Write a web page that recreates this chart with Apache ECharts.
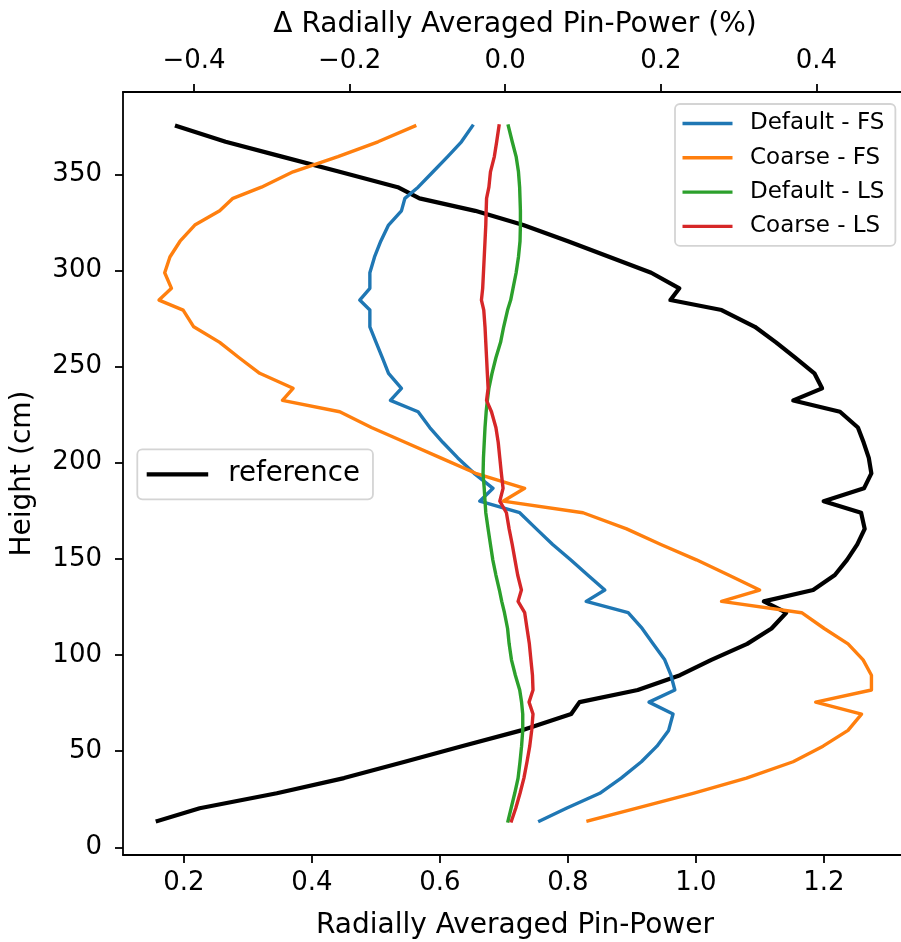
<!DOCTYPE html>
<html>
<head>
<meta charset="utf-8">
<script src="https://cdn.jsdelivr.net/npm/echarts@6/dist/echarts.min.js"></script>
<style>
  html, body { margin: 0; padding: 0; background: #ffffff; }
  #chart { width: 901px; height: 942px; }
</style>
</head>
<body>
<div id="chart"></div>
<script>
// Axial node heights (cm)
const heights = [13.7, 20.3, 28.1, 36.0, 44.5, 52.6, 60.8, 69.3, 75.5, 81.8,
  89.5, 97.5, 105.8, 113.8, 122.0, 127.9, 133.8, 141.6, 149.5, 157.5,
  165.6, 174.0, 180.0, 186.7, 194.5, 202.5, 210.5, 218.3, 226.5, 232.4,
  238.7, 246.5, 254.6, 262.6, 270.7, 279.4, 284.6, 290.7, 298.8, 307.0,
  315.2, 323.6, 331.0, 337.5, 343.3, 351.3, 359.2, 366.9, 375.1];

// Reference radially averaged pin-power (bottom axis)
const reference = [0.159, 0.2245, 0.345, 0.45, 0.545, 0.634, 0.727, 0.805, 0.818, 0.909,
  0.975, 1.024, 1.08, 1.118, 1.141, 1.106, 1.183, 1.217, 1.236, 1.252,
  1.2636, 1.258, 1.1995, 1.2625, 1.274, 1.270, 1.262, 1.253, 1.225, 1.152,
  1.197, 1.185, 1.155, 1.125, 1.092, 1.04, 0.960, 0.974, 0.930, 0.865,
  0.80, 0.73, 0.655, 0.568, 0.534, 0.443, 0.353, 0.265, 0.189];

// Differences from reference, in percent (top axis)
const defaultFS = [0.0443, 0.0786, 0.1215, 0.149, 0.175, 0.195, 0.210, 0.2157, 0.1848, 0.218,
  0.213, 0.205, 0.19, 0.176, 0.158, 0.104, 0.128, 0.106, 0.084, 0.061,
  0.040, 0.0186, -0.0328, -0.0157, -0.040, -0.061, -0.080, -0.097, -0.112, -0.1476,
  -0.1334, -0.150, -0.158, -0.166, -0.174, -0.174, -0.187, -0.174, -0.174, -0.168,
  -0.160, -0.150, -0.1334, -0.129, -0.112, -0.0928, -0.074, -0.0563, -0.0422];

const coarseFS = [0.1064, 0.168, 0.2414, 0.31, 0.37, 0.4085, 0.4406, 0.458, 0.399, 0.4707,
  0.4707, 0.46, 0.4406, 0.41, 0.381, 0.278, 0.327, 0.287, 0.2457, 0.20,
  0.156, 0.100, -0.0028, 0.025, -0.038, -0.083, -0.128, -0.172, -0.2127, -0.2864,
  -0.2727, -0.3156, -0.342, -0.367, -0.4004, -0.414, -0.445, -0.429, -0.4377, -0.431,
  -0.418, -0.399, -0.367, -0.35, -0.3134, -0.2727, -0.215, -0.1635, -0.1163];

const defaultLS = [0.0036, 0.0075, 0.0122, 0.0165, 0.019, 0.021, 0.0225, 0.0225, 0.021, 0.0186,
  0.013, 0.008, 0.005, 0.003, -0.001, -0.0045, -0.0075, -0.012, -0.016, -0.019,
  -0.022, -0.025, -0.026, -0.027, -0.0285, -0.028, -0.027, -0.026, -0.0245, -0.023,
  -0.021, -0.017, -0.012, -0.006, -0.002, 0.003, 0.007, 0.010, 0.014, 0.017,
  0.019, 0.0195, 0.0195, 0.019, 0.0185, 0.017, 0.014, 0.009, 0.004];

const coarseLS = [0.008, 0.0135, 0.019, 0.024, 0.028, 0.0315, 0.034, 0.0357, 0.0306, 0.0357,
  0.035, 0.033, 0.031, 0.028, 0.025, 0.0165, 0.0208, 0.016, 0.0125, 0.009,
  0.005, 0.0015, -0.007, -0.0028, -0.005, -0.007, -0.009, -0.012, -0.0177, -0.024,
  -0.022, -0.023, -0.024, -0.025, -0.026, -0.0276, -0.0306, -0.029, -0.028, -0.027,
  -0.026, -0.025, -0.0245, -0.024, -0.021, -0.019, -0.014, -0.011, -0.008];

// Tick positions
const powerTicks = [0.2, 0.4, 0.6, 0.8, 1.0, 1.2];
const deltaTicks = [-0.4, -0.2, 0.0, 0.2, 0.4];
const heightTicks = [0, 50, 100, 150, 200, 250, 300, 350];

const FONT = 'DejaVu Sans';
const pairs = (vals) => vals.map((v, i) => [v, heights[i]]);
const fmt1 = (v) => {
  const s = Number(v).toFixed(1);
  return s.replace('-', '\u2212');
};

const axisLineStyle = { color: '#000', width: 1.8 };
const tickStyle = { length: 8, lineStyle: { color: '#000', width: 1.8 } };

const chart = echarts.init(document.getElementById('chart'), null, { renderer: 'canvas' });

const lineSeries = (name, vals, color, axisIdx, width, z) => ({
  name, type: 'line', xAxisIndex: axisIdx, yAxisIndex: 0,
  data: pairs(vals), showSymbol: false, symbol: 'none', smooth: false,
  animation: false, z,
  lineStyle: { color, width, join: 'round', cap: 'square' },
  itemStyle: { color }
});

chart.setOption({
  animation: false,
  backgroundColor: '#ffffff',
  textStyle: { fontFamily: FONT },
  // plot frame extends slightly past the right edge of the canvas
  grid: { left: 123, top: 92, width: 784, height: 763, containLabel: false, outerBoundsMode: 'none' },
  xAxis: [
    {
      type: 'value', position: 'bottom', min: 0.1047, max: 1.3297,
      name: 'Radially Averaged Pin-Power', nameLocation: 'middle', nameGap: 57,
      nameTextStyle: { fontFamily: FONT, fontSize: 28, color: '#000' },
      axisLine: { show: true, onZero: false, lineStyle: axisLineStyle },
      axisTick: { show: true, inside: false, customValues: powerTicks, ...tickStyle },
      axisLabel: { customValues: powerTicks, formatter: fmt1, margin: 15,
        fontFamily: FONT, fontSize: 26, color: '#000' },
      splitLine: { show: false }
    },
    {
      type: 'value', position: 'top', min: -0.4913, max: 0.5164,
      name: '\u0394 Radially Averaged Pin-Power (%)', nameLocation: 'middle', nameGap: 53,
      nameTextStyle: { fontFamily: FONT, fontSize: 28, color: '#000' },
      axisLine: { show: true, onZero: false, lineStyle: axisLineStyle },
      axisTick: { show: true, inside: false, customValues: deltaTicks, ...tickStyle },
      axisLabel: { customValues: deltaTicks, formatter: fmt1, margin: 18,
        fontFamily: FONT, fontSize: 26, color: '#000' },
      splitLine: { show: false }
    }
  ],
  yAxis: [
    {
      type: 'value', position: 'left', min: -4.0, max: 392.8,
      name: 'Height (cm)', nameLocation: 'middle', nameGap: 86,
      nameTextStyle: { fontFamily: FONT, fontSize: 28, color: '#000' },
      axisLine: { show: true, onZero: false, lineStyle: axisLineStyle },
      axisTick: { show: true, inside: false, customValues: heightTicks, ...tickStyle },
      axisLabel: { customValues: heightTicks, margin: 21,
        fontFamily: FONT, fontSize: 26, color: '#000' },
      splitLine: { show: false }
    },
    {
      type: 'value', position: 'right', min: -4.0, max: 392.8,
      axisLine: { show: true, onZero: false, lineStyle: axisLineStyle },
      axisTick: { show: false }, axisLabel: { show: false }, splitLine: { show: false }
    }
  ],
  legend: [
    {
      data: ['Default - FS', 'Coarse - FS', 'Default - LS', 'Coarse - LS'],
      orient: 'vertical', left: 675, top: 104,
      icon: 'rect', itemWidth: 50, itemHeight: 3.4, itemGap: 11.3,
      padding: [8, 11, 8, 7.5],
      backgroundColor: 'rgba(255,255,255,0.8)',
      borderColor: '#d4d4d4', borderWidth: 1.8, borderRadius: 5,
      textStyle: { fontFamily: FONT, fontSize: 23, lineHeight: 23, color: '#000',
        padding: [0, 0, 0, 12.5] },
      selectedMode: false
    },
    {
      data: ['reference'],
      orient: 'vertical', left: 137.3, top: 449.3,
      icon: 'rect', itemWidth: 61.5, itemHeight: 4.2,
      padding: [11, 13, 11, 9.4],
      backgroundColor: 'rgba(255,255,255,0.8)',
      borderColor: '#d4d4d4', borderWidth: 1.8, borderRadius: 5,
      textStyle: { fontFamily: FONT, fontSize: 27.6, lineHeight: 27.6, color: '#000',
        padding: [0, 0, 0, 15] },
      selectedMode: false
    }
  ],
  series: [
    lineSeries('reference', reference, '#000000', 0, 4.2, 2),
    lineSeries('Default - FS', defaultFS, '#1f77b4', 1, 3.4, 3),
    lineSeries('Coarse - FS', coarseFS, '#ff7f0e', 1, 3.4, 3),
    lineSeries('Default - LS', defaultLS, '#2ca02c', 1, 3.4, 3),
    lineSeries('Coarse - LS', coarseLS, '#d62728', 1, 3.4, 3)
  ]
});
</script>
</body>
</html>
